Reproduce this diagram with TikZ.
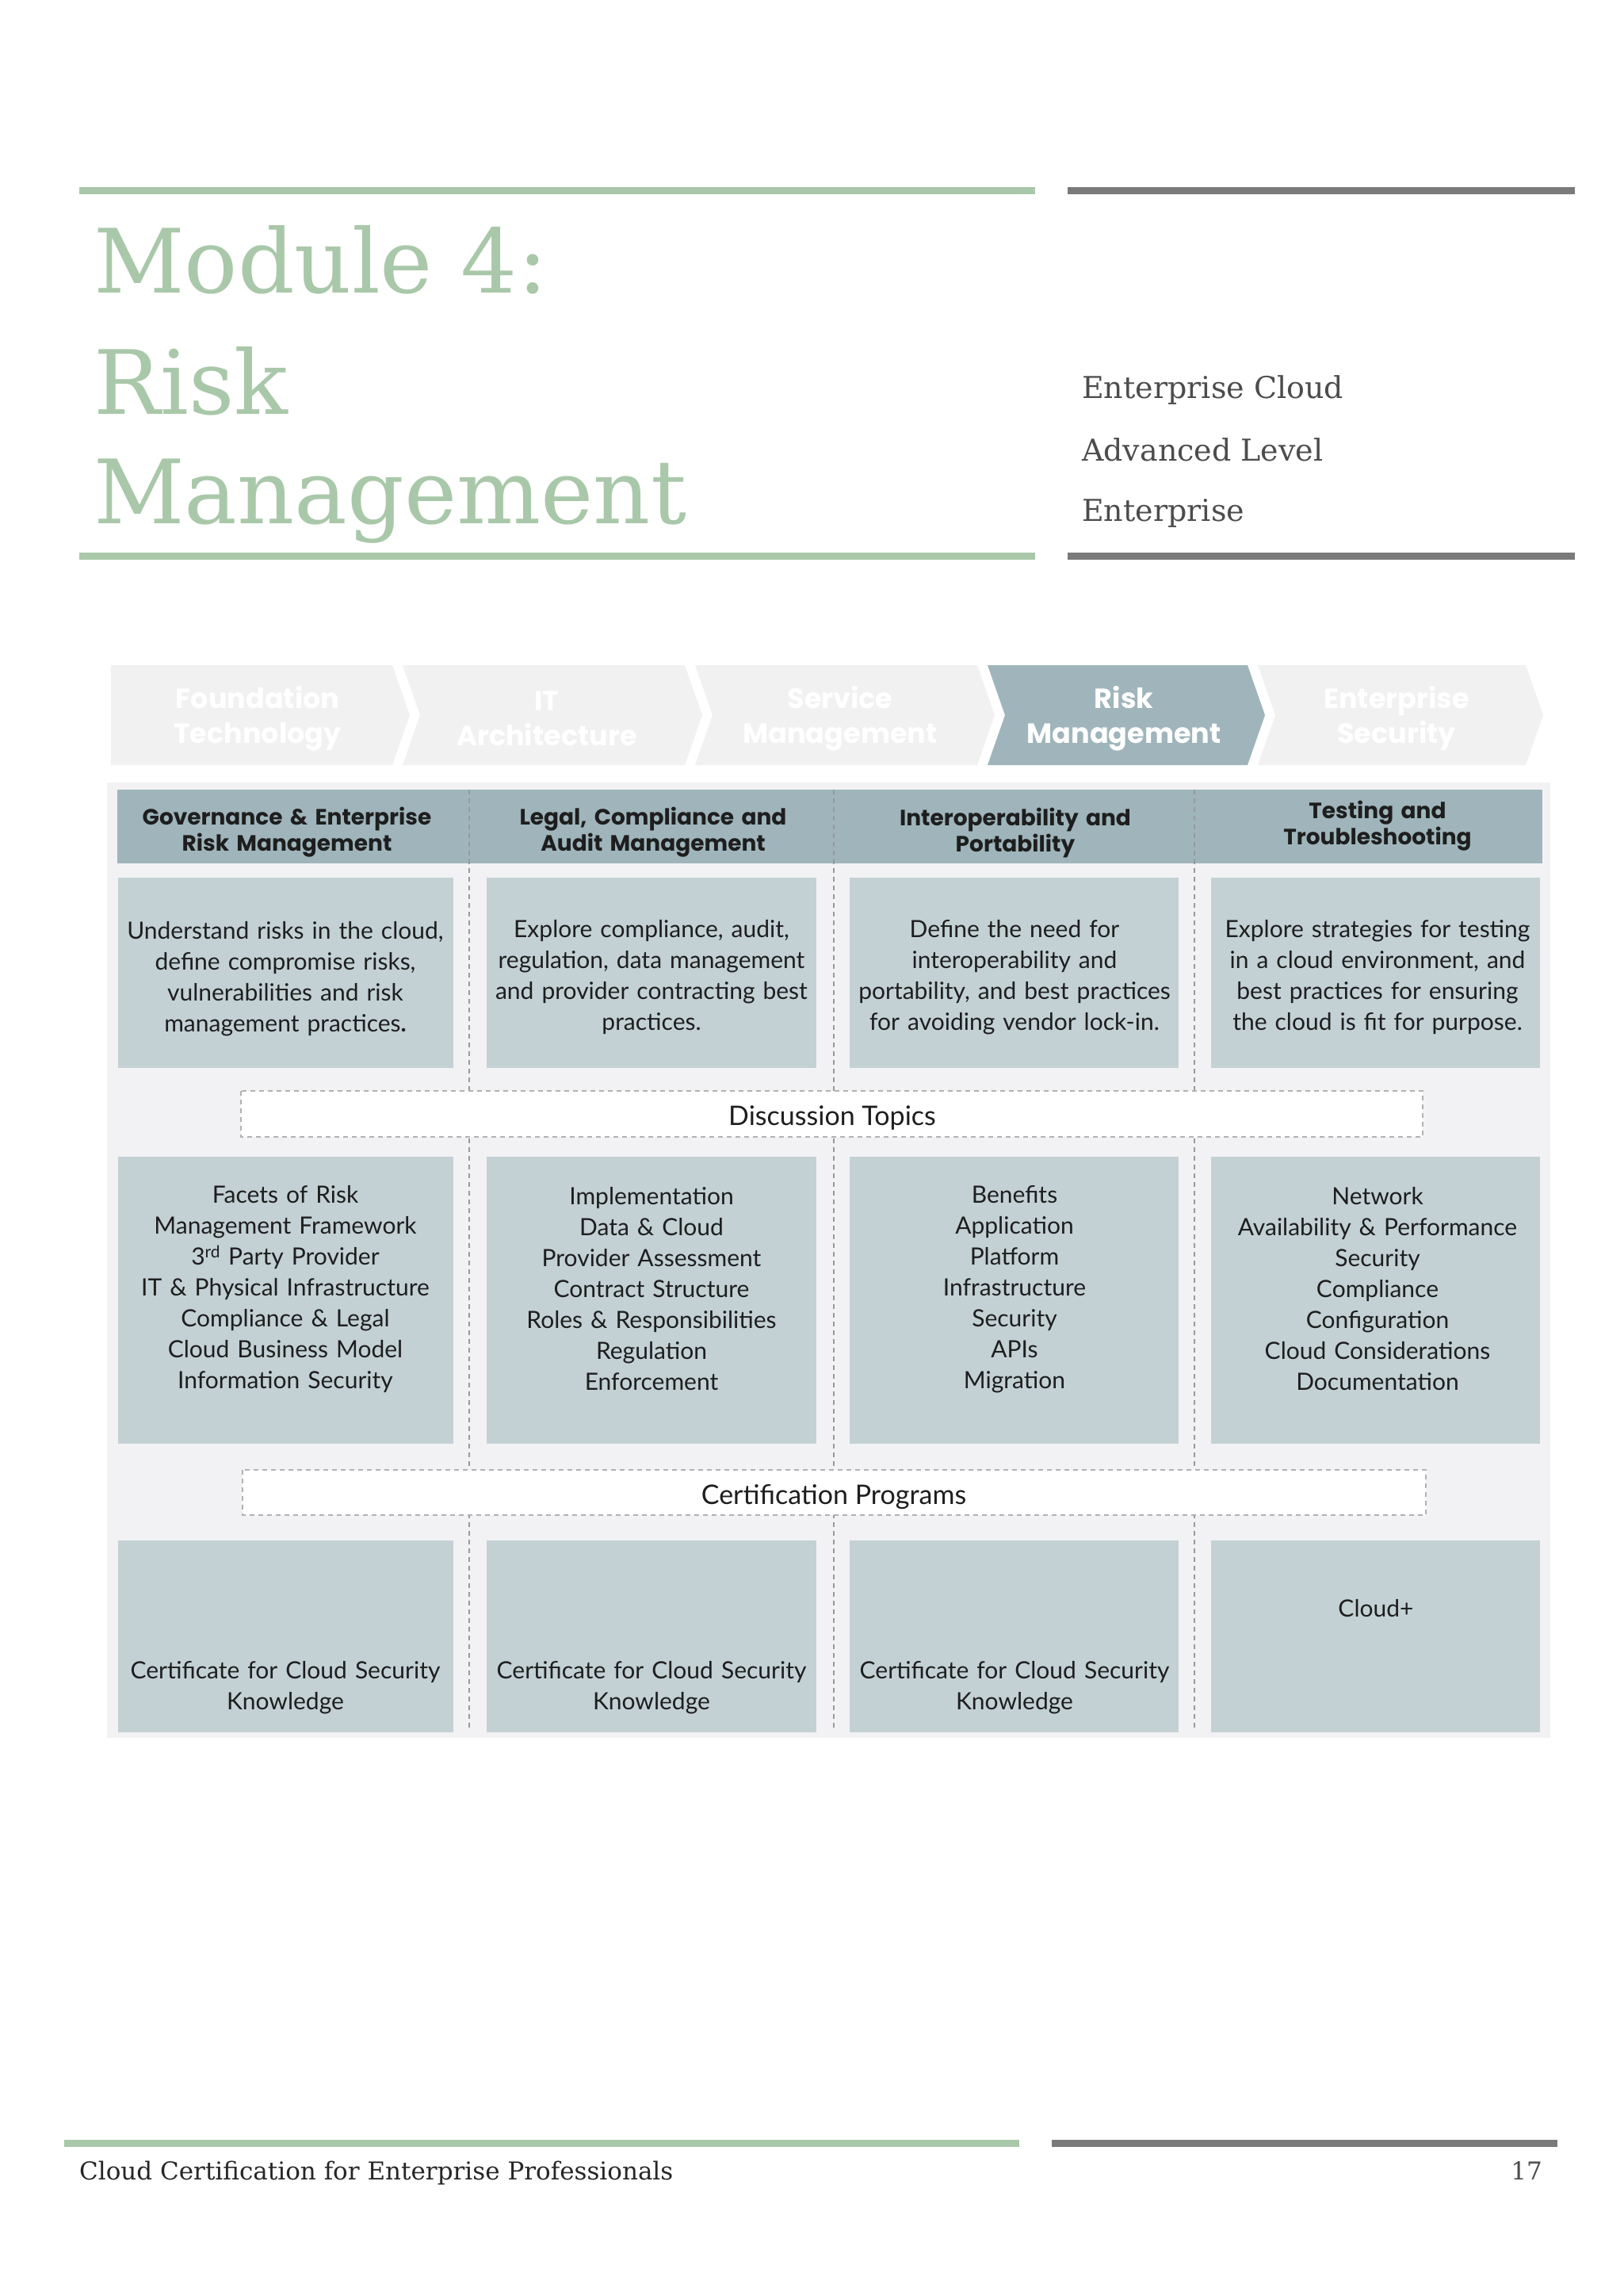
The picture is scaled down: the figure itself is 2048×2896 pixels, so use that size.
\documentclass[tikz,border=0pt]{standalone}
\usepackage{fontspec}
\setmainfont{Lato}
\newfontfamily\titlefont{DejaVu Serif}
\newfontfamily\hdfont{Poppins}
\usetikzlibrary{calc}
\definecolor{tgreen}{HTML}{A9C8A9}
\definecolor{tgray}{HTML}{7A7A7A}
\definecolor{chev}{HTML}{F1F1F2}
\definecolor{chevon}{HTML}{9FB5BB}
\definecolor{panel}{HTML}{F2F2F4}
\definecolor{boxc}{HTML}{C3D1D5}
\definecolor{txt}{HTML}{1E1E1E}
\tikzset{
 hd/.style={text width=400pt,align=center,font=\hdfont\bfseries\fontsize{28}{33}\selectfont,text=txt},
 bodytx/.style={text width=410pt,align=center,font=\fontsize{30}{39}\selectfont,text=txt},
 dashsep/.style={draw=gray!80,dash pattern=on 6pt off 5pt,line width=1.5pt},
 chevtx/.style={font=\hdfont\bfseries\fontsize{35}{44}\selectfont,text=white,align=center},
 ttl/.style={anchor=base west,text=tgreen,font=\titlefont\fontsize{112}{120}\selectfont,inner sep=0}
}
\begin{document}
\begin{tikzpicture}[x=1pt,y=-1pt]
\useasboundingbox[fill=white] (0,0) rectangle (2048,2896);
% header rules
\draw[tgreen,line width=9pt] (100,240) -- (1306,240);
\draw[tgray,line width=9pt] (1347,240) -- (1987,240);
\draw[tgreen,line width=9pt] (100,701) -- (1306,701);
\draw[tgray,line width=9pt] (1347,701) -- (1987,701);
\node[ttl] (t1) at (118,369) {Module 4:};
\node[ttl] (t2) at (118,522) {Risk};
\node[ttl] (t3) at (118,660) {Management};
\node[anchor=base west,text=black!70,font=\titlefont\fontsize{38}{40}\selectfont,inner sep=0] (r1) at (1365,502) {Enterprise Cloud};
\node[anchor=base west,text=black!70,font=\titlefont\fontsize{38}{40}\selectfont,inner sep=0] (r2) at (1365,581) {Advanced Level};
\node[anchor=base west,text=black!70,font=\titlefont\fontsize{38}{40}\selectfont,inner sep=0] (r3) at (1365,657) {Enterprise};
% chevrons
\fill[chev] (140,839) -- (495,839) -- (517,902) -- (495,965) -- (140,965) -- cycle;
\foreach \xl/\xr/\c in {508/864/chev,877/1233/chev,1246/1574/chevon,1587/1925/chev}{
 \fill[\c] (\xl,839) -- (\xr,839) -- (\xr+22,902) -- (\xr,965) -- (\xl,965) -- (\xl+22,902) -- cycle;}
\node[chevtx] (c1) at (325,906) {Foundation\\Technology};
\node[chevtx] (c2) at (690,906) {IT\\Architecture};
\node[chevtx] (c3) at (1060,906) {Service\\Management};
\node[chevtx] (c4) at (1418,906) {Risk\\Management};
\node[chevtx] (c5) at (1762,906) {Enterprise\\Security};
% panel
\fill[panel] (135,987) rectangle (1956,2192);
\fill[chevon] (148,996) rectangle (1946,1089);
\foreach \x in {592,1052,1507}{\draw[dashsep] (\x,996) -- (\x,2180);}
% boxes
\foreach \xl/\xr in {149/572,614/1030,1072/1487,1528/1943}{
 \fill[boxc] (\xl,1107) rectangle (\xr,1347);
 \fill[boxc] (\xl,1459) rectangle (\xr,1821);
 \fill[boxc] (\xl,1943) rectangle (\xr,2185);}
\node[hd] (h1) at (362,1050) {Governance \& Enterprise\\Risk Management};
\node[hd] (h2) at (824,1050) {Legal, Compliance and\\Audit Management};
\node[hd] (h3) at (1281,1050) {Interoperability and\\Portability};
\node[hd] (h4) at (1738,1042) {Testing and\\Troubleshooting};
\node[bodytx] (d1) at (360,1235) {Understand risks in the cloud,\\define compromise risks,\\vulnerabilities and risk\\management practices\textbf{.}};
\node[bodytx] (d2) at (822,1233) {Explore compliance, audit,\\regulation, data management\\and provider contracting best\\practices.};
\node[bodytx] (d3) at (1280,1233) {Define the need for\\interoperability and\\portability, and best practices\\for avoiding vendor lock-in.};
\node[bodytx] (d4) at (1738,1233) {Explore strategies for testing\\in a cloud environment, and\\best practices for ensuring\\the cloud is fit for purpose.};
% discussion
\fill[white] (304,1376) rectangle (1795,1434);
\draw[dashsep,line width=1.2pt,gray!60] (304,1376) rectangle (1795,1434);
\node[font=\fontsize{34}{40}\selectfont,text=txt] (dt) at (1050,1410) {Discussion Topics};
\node[bodytx] (p1) at (360,1626) {Facets of Risk\\Management Framework\\3\textsuperscript{rd} Party Provider\\IT \& Physical Infrastructure\\Compliance \& Legal\\Cloud Business Model\\Information Security};
\node[bodytx] (p2) at (822,1626) {Implementation\\Data \& Cloud\\Provider Assessment\\Contract Structure\\Roles \& Responsibilities\\Regulation\\Enforcement};
\node[bodytx] (p3) at (1280,1626) {Benefits\\Application\\Platform\\Infrastructure\\Security\\APIs\\Migration};
\node[bodytx] (p4) at (1738,1626) {Network\\Availability \& Performance\\Security\\Compliance\\Configuration\\Cloud Considerations\\Documentation};
% certification
\fill[white] (306,1854) rectangle (1799,1911);
\draw[dashsep,line width=1.2pt,gray!60] (306,1854) rectangle (1799,1911);
\node[font=\fontsize{34}{40}\selectfont,text=txt] (cp) at (1052,1888) {Certification Programs};
\node[bodytx] (e1) at (360,2129) {Certificate for Cloud Security\\Knowledge};
\node[bodytx] (e2) at (822,2129) {Certificate for Cloud Security\\Knowledge};
\node[bodytx] (e3) at (1280,2129) {Certificate for Cloud Security\\Knowledge};
\node[bodytx] (e4) at (1736,2029) {Cloud+};
% footer
\draw[tgreen,line width=9pt] (81,2703) -- (1286,2703);
\draw[tgray,line width=9pt] (1327,2703) -- (1965,2703);
\node[anchor=base west,font=\titlefont\fontsize{31}{34}\selectfont,text=black!85,inner sep=0] (ft) at (100,2749) {Cloud Certification for Enterprise Professionals};
\node[anchor=base east,font=\titlefont\fontsize{31}{34}\selectfont,text=black!70,inner sep=0] (pg) at (1946,2749) {17};
\end{tikzpicture}
\end{document}
